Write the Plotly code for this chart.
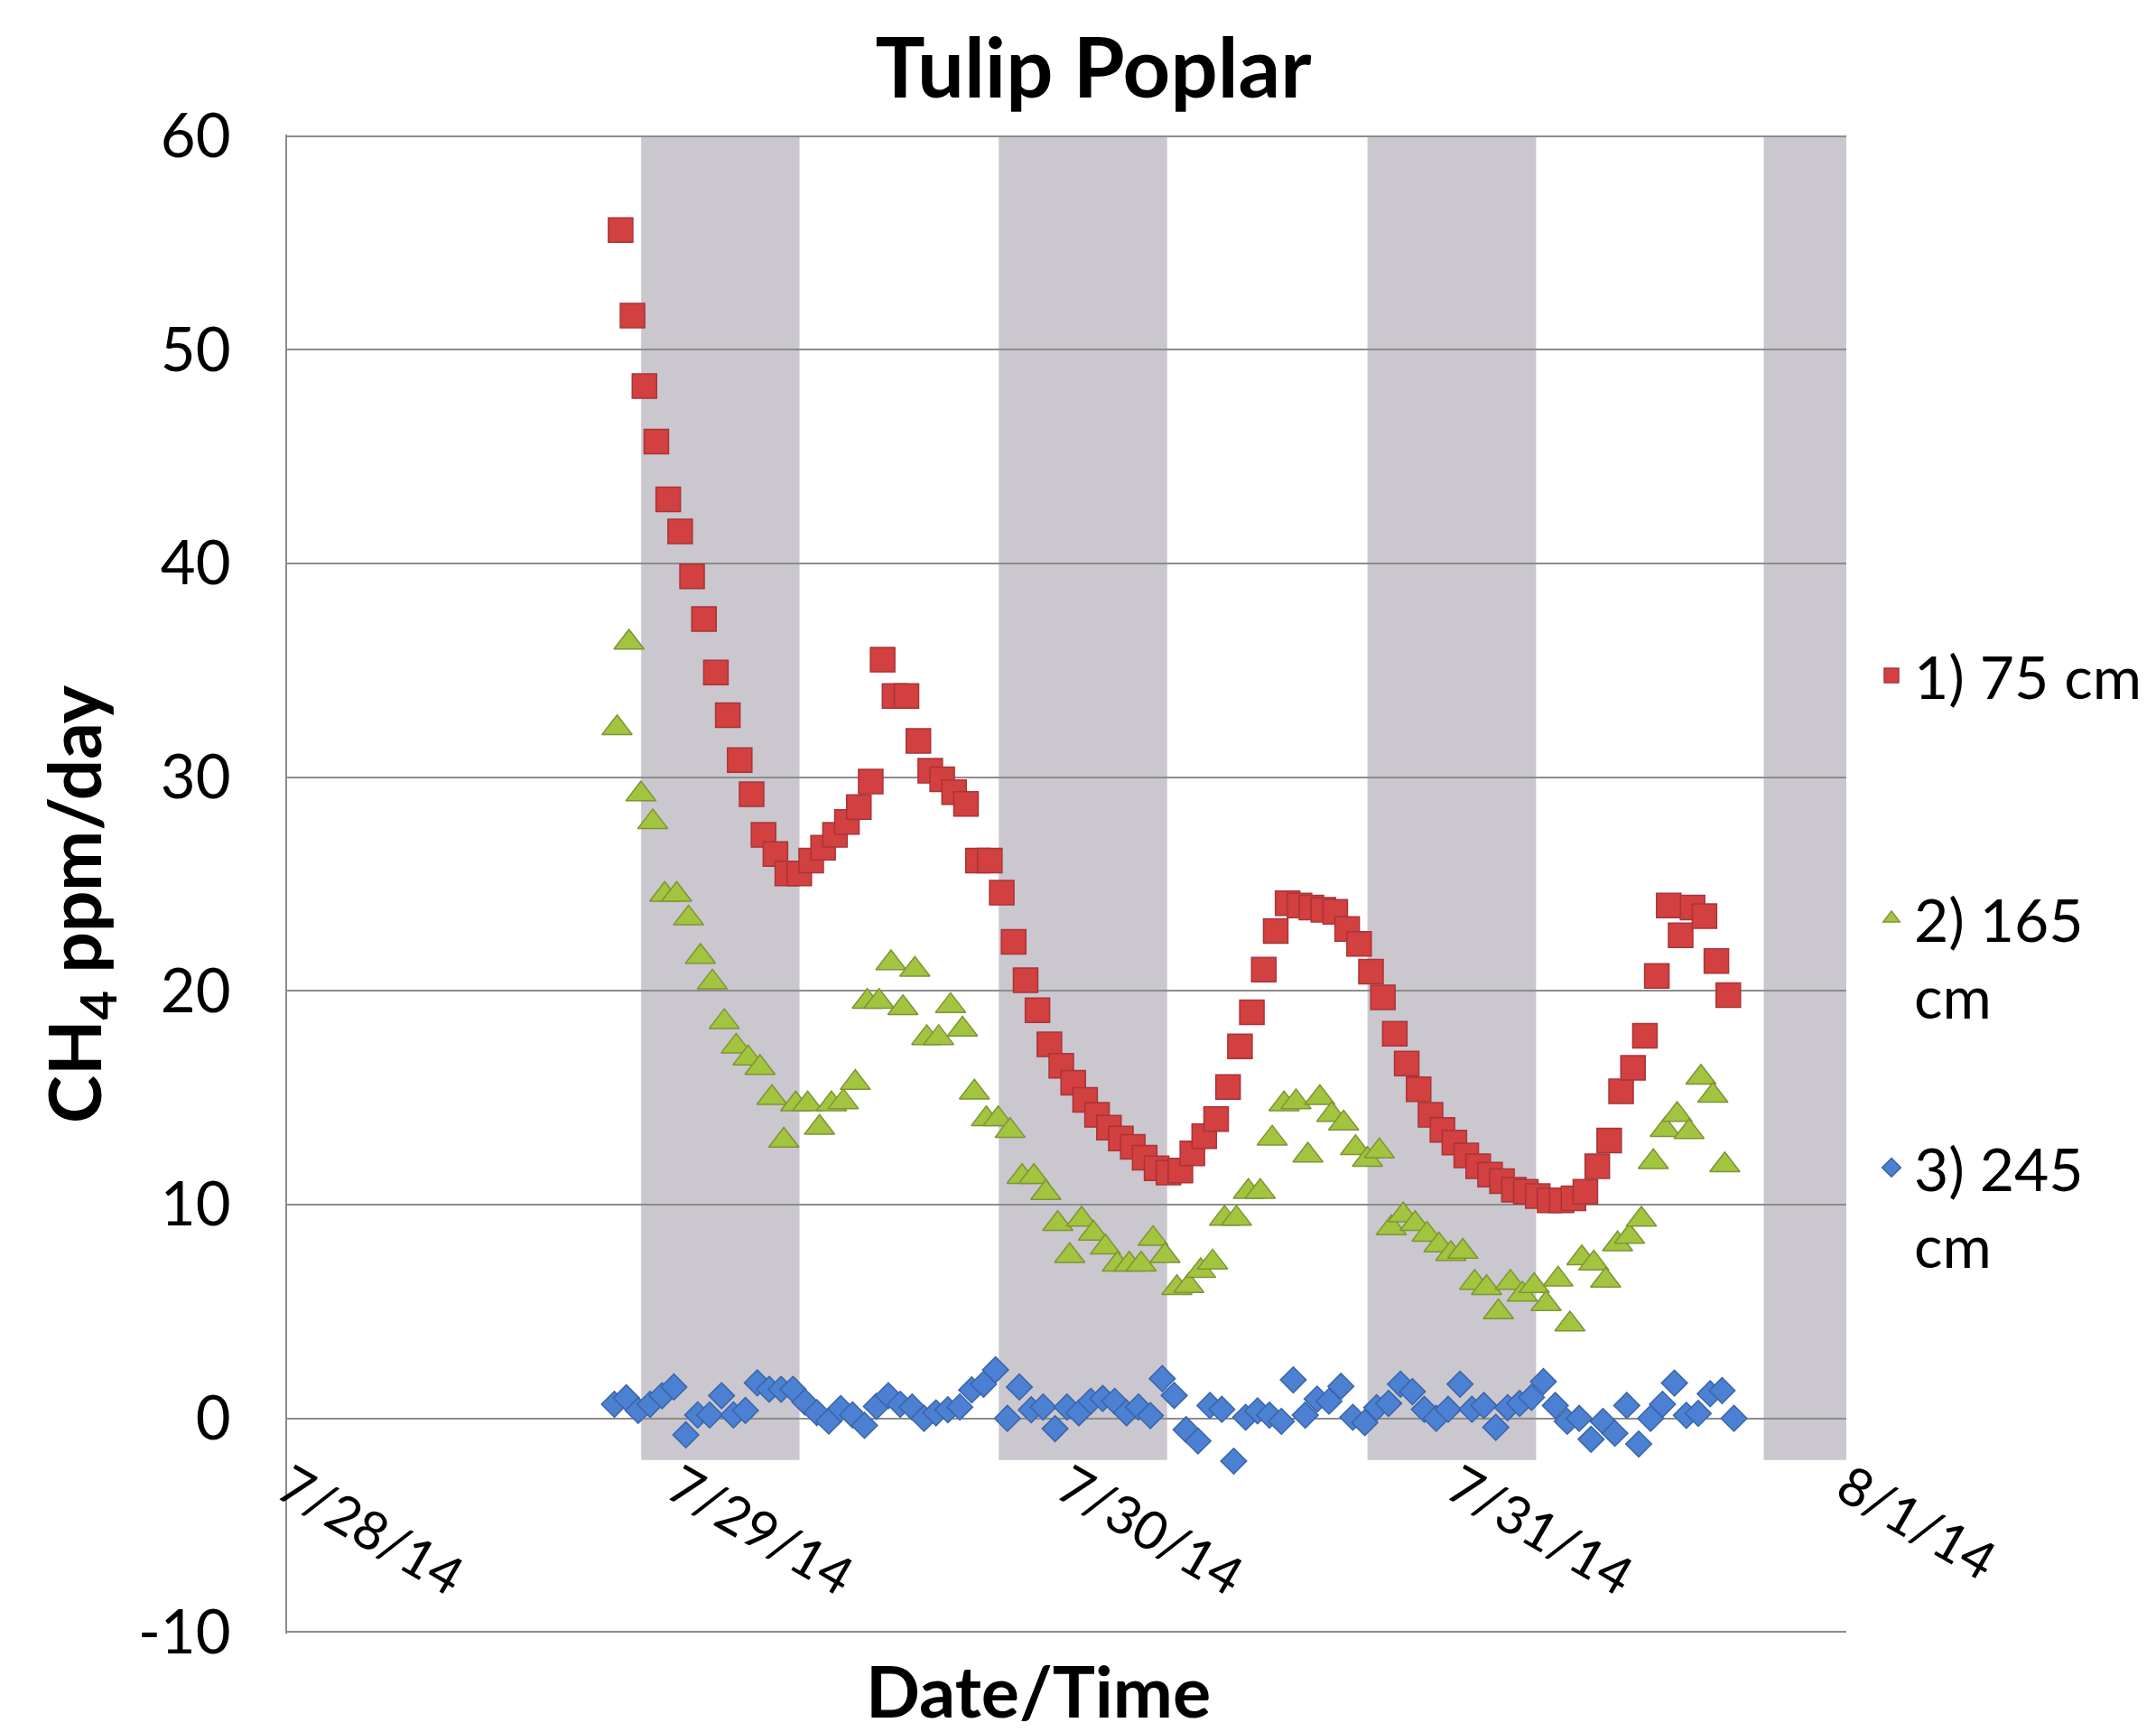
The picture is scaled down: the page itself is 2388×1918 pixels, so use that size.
import plotly.graph_objects as go
import pandas as pd

# ---------------- data ----------------
title_text = "Tulip Poplar"
series_names = ["1) 75 cm", "2) 165<br>cm", "3) 245<br>cm"]

# sampling: every 44 minutes, each depth starting slightly offset
red_start = "2014-07-28 20:32"
green_start = "2014-07-28 20:19"
blue_start = "2014-07-28 20:09"
sample_freq = "44min"

red_75cm = [55.6, 51.6, 48.3, 45.7, 43.0, 41.5, 39.4, 37.4, 34.9, 32.9,
            30.8, 29.2, 27.3, 26.4, 25.5, 25.5, 26.1, 26.7, 27.3, 27.9,
            28.6, 29.8, 35.5, 33.8, 33.8, 31.7, 30.3, 29.9, 29.3, 28.75,
            26.1, 26.1, 24.6, 22.3, 20.5, 19.1, 17.5, 16.5, 15.7, 14.9,
            14.2, 13.6, 13.1, 12.7, 12.2, 11.7, 11.5, 11.6, 12.4, 13.2,
            14.0, 15.5, 17.4, 19.0, 21.0, 22.8, 24.1, 24.0, 23.9, 23.8,
            23.7, 22.9, 22.2, 20.9, 19.7, 18.0, 16.6, 15.4, 14.2, 13.5,
            12.9, 12.3, 11.8, 11.4, 11.1, 10.7, 10.6, 10.4, 10.2, 10.2,
            10.3, 10.6, 11.8, 13.0, 15.3, 16.4, 17.9, 20.7, 24.0, 22.6,
            23.9, 23.5, 21.4, 19.8]

green_165cm = [32.3, 36.3, 29.2, 27.9, 24.5, 24.5, 23.4, 21.6, 20.4, 18.55,
               17.4, 16.85, 16.4, 15.0, 13.0, 14.7, 14.7, 13.6, 14.7, 14.8,
               15.7, 19.5, 19.5, 21.3, 19.2, 21.0, 17.8, 17.8, 19.3, 18.2,
               15.25, 14.0, 14.0, 13.45, 11.3, 11.3, 10.55, 9.1, 7.6, 9.3,
               8.65, 8.0, 7.2, 7.2, 7.2, 8.4, 7.6, 6.1, 6.2, 6.9,
               7.3, 9.35, 9.35, 10.6, 10.6, 13.1, 14.7, 14.8, 12.3, 15.0,
               14.2, 13.8, 12.65, 12.1, 12.5, 8.9, 9.5, 9.1, 8.6, 8.1,
               7.7, 7.8, 6.35, 6.1, 4.97, 6.35, 5.8, 6.2, 5.35, 6.5,
               4.4, 7.5, 7.25, 6.45, 8.15, 8.5, 9.3, 12.0, 13.5, 14.2,
               13.4, 15.95, 15.1, 11.85]

blue_245cm = [0.66, 0.96, 0.37, 0.66, 1.06, 1.47, -0.77, 0.16, 0.16, 1.06,
              0.16, 0.37, 1.66, 1.36, 1.36, 1.36, 0.76, 0.27, -0.13, 0.46,
              0.16, -0.33, 0.56, 1.06, 0.66, 0.53, 0.0, 0.26, 0.4, 0.53,
              1.33, 1.6, 2.27, 0.0, 1.47, 0.4, 0.53, -0.48, 0.53, 0.26,
              0.8, 0.93, 0.8, 0.26, 0.53, 0.13, 1.86, 1.07, -0.53, -1.06,
              0.6, 0.42, -2.0, 0.05, 0.35, 0.15, -0.14, 1.8, 0.15, 0.9,
              0.8, 1.5, 0.05, -0.2, 0.5, 0.7, 1.6, 1.25, 0.42, 0.0,
              0.42, 1.6, 0.42, 0.6, -0.42, 0.5, 0.7, 0.98, 1.72, 0.6,
              -0.14, 0.0, -0.98, -0.14, -0.7, 0.6, -1.2, 0.0, 0.66, 1.65,
              0.14, 0.23, 1.15, 1.3, 0.0]

# night-time shading periods
night_starts = ["2014-07-28 21:48", "2014-07-29 19:49", "2014-07-30 18:31", "2014-07-31 18:55"]
night_ends = ["2014-07-29 07:33", "2014-07-30 06:11", "2014-07-31 04:54", "2014-08-01 00:56"]
night_bottom = -1.95
night_top = 60

x_range = ["2014-07-28", "2014-08-01"]
y_tickvals = [-10, 0, 10, 20, 30, 40, 50, 60]
y_ticktext = ["-10", "0", "10", "20", "30", "40", "50", "60"]

# ---------------- figure ----------------
FONT = "Lato, 'Open Sans', sans-serif"
BODY = 8                      # browser default body margin around the plot div
W, H = 2388 - BODY, 1918 - BODY
ML, MR, MT, MB = 318 - BODY, 343, 149 - BODY, 109
y_pad = 0.07                  # keeps the edge gridlines (60 / -10) drawn
y_range = [y_tickvals[0] - y_pad, y_tickvals[-1] + y_pad]

red_t = pd.date_range(red_start, periods=len(red_75cm), freq=sample_freq)
green_t = pd.date_range(green_start, periods=len(green_165cm), freq=sample_freq)
blue_t = pd.date_range(blue_start, periods=len(blue_245cm), freq=sample_freq)

fig = go.Figure()

fig.add_trace(go.Scatter(
    x=red_t, y=red_75cm, mode="markers", name=series_names[0],
    marker=dict(symbol="square", size=27, color="#D2403F",
                line=dict(color="#A8343A", width=1.5)),
    legend="legend"))
fig.add_trace(go.Scatter(
    x=green_t, y=green_165cm, mode="markers", name=series_names[1],
    marker=dict(symbol="triangle-up", size=29, color="#A3C43E",
                line=dict(color="#7E9436", width=1.5)),
    legend="legend2"))
fig.add_trace(go.Scatter(
    x=blue_t, y=blue_245cm, mode="markers", name=series_names[2],
    marker=dict(symbol="diamond", size=22, color="#4C80D2",
                line=dict(color="#3A64A8", width=1.5)),
    legend="legend3"))

for s, e in zip(night_starts, night_ends):
    fig.add_shape(type="rect", xref="x", yref="y", x0=s, x1=e,
                  y0=night_bottom, y1=night_top,
                  fillcolor="#CAC7CE", line=dict(width=0), layer="below")

pw = W - ML - MR
ph = H - MT - MB

# helpers: page pixel position -> paper coordinate
def px_x(px):
    return (px - BODY - ML) / pw

def px_y(py):
    return (H - MB - (py - BODY)) / ph

zero_pos = (0 - y_range[0]) / (y_range[1] - y_range[0])

legend_common = dict(xanchor="left", yanchor="middle",
                     font=dict(size=66, family=FONT, color="black"),
                     valign="top", bgcolor="rgba(0,0,0,0)", itemwidth=40)

fig.update_layout(
    width=W, height=H,
    margin=dict(l=ML, r=MR, t=MT, b=MB, autoexpand=False),
    paper_bgcolor="white", plot_bgcolor="white",
    font=dict(family=FONT, color="black"),
    title=dict(text="<b>" + title_text + "</b>", x=(1211 - BODY) / W, xref="container",
               xanchor="center", y=1 - 68 / H, yref="container", yanchor="middle",
               font=dict(size=92, family=FONT, color="black")),
    xaxis=dict(type="date", range=x_range, dtick=86400000,
               tick0="2014-07-28", tickformat="%-m/%-d/%y", tickangle=30,
               showgrid=False, zeroline=False, showline=False, ticks="",
               anchor="free", position=zero_pos, ticklabelstandoff=30,
               tickfont=dict(size=59, family=FONT, color="black")),
    yaxis=dict(range=y_range, tickmode="array", tickvals=y_tickvals,
               ticktext=y_ticktext, showgrid=True,
               gridcolor="#8C8C8C", gridwidth=2, zeroline=False,
               showline=True, linecolor="#8C8C8C", linewidth=2, ticks="",
               ticklabelstandoff=47,
               tickfont=dict(size=67, family=FONT, color="black")),
    legend=dict(x=px_x(2070), y=px_y(748), **legend_common),
    legend2=dict(x=px_x(2070), y=px_y(1060), **legend_common),
    legend3=dict(x=px_x(2070), y=px_y(1336), **legend_common),
    showlegend=True,
)

fig.add_annotation(text="<b>Date/Time</b>", xref="paper", yref="paper",
                   x=px_x(1150), y=px_y(1871),
                   xanchor="center", yanchor="middle", showarrow=False,
                   font=dict(size=79, family=FONT, color="black"))
fig.add_annotation(text="<b>CH<sub>4</sub> ppm/day</b>", xref="paper", yref="paper",
                   x=px_x(87), y=px_y(1001), textangle=-90,
                   xanchor="center", yanchor="middle", showarrow=False,
                   font=dict(size=80, family=FONT, color="black"))

fig.write_html("out.html")
